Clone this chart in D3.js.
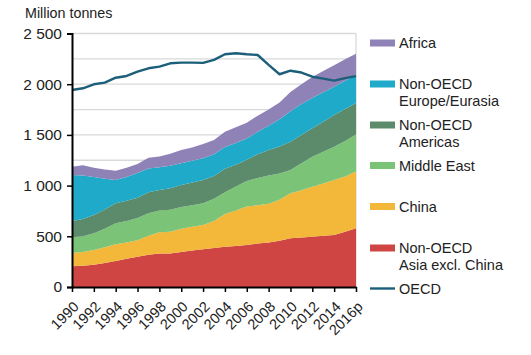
<!DOCTYPE html>
<html>
<head>
<meta charset="utf-8">
<script src="https://cdn.jsdelivr.net/npm/d3@7/dist/d3.min.js"></script>
<style>
  html, body { margin: 0; padding: 0; background: #fff; }
  svg { display: block; font-family: "Liberation Sans", Arial, sans-serif; }
</style>
</head>
<body>
<svg id="chart" width="531" height="355"></svg>
<script>
// ---- Data (million tonnes) ----
const years = [1990,1991,1992,1993,1994,1995,1996,1997,1998,1999,2000,2001,2002,2003,2004,2005,2006,2007,2008,2009,2010,2011,2012,2013,2014,2015,2016];
const xTickYears = [1990,1992,1994,1996,1998,2000,2002,2004,2006,2008,2010,2012,2014,2016];
const xTickLabels = ["1990","1992","1994","1996","1998","2000","2002","2004","2006","2008","2010","2012","2014","2016p"];
const yTickValues = [0, 500, 1000, 1500, 2000, 2500];
const yGridValues = [250, 500, 750, 1000, 1250, 1500, 1750, 2000, 2250, 2500];

const asiaExclChina = [205,210,220,236,256,278,299,318,330,330,345,360,372,385,398,405,414,430,440,455,480,488,496,505,513,545,580];
const china          = [130,135,145,156,165,162,161,187,210,215,230,235,239,265,322,350,381,375,380,405,444,467,493,515,542,545,560];
const middleEast     = [155,155,165,183,207,212,220,223,215,217,215,210,214,220,215,235,250,270,280,260,230,265,296,315,329,350,365];
const americas       = [160,170,180,190,197,198,200,207,202,213,215,225,230,225,230,215,210,235,250,265,279,280,280,295,312,315,310];
const europeEurasia  = [455,430,375,303,230,235,245,233,223,220,215,215,214,215,215,215,210,220,240,270,300,305,300,290,280,280,275];
const africa         = [81,100,90,92,92,90,87,107,108,120,130,130,141,140,150,155,155,160,160,165,190,195,205,210,212,210,210];
const oecd           = [1943,1960,1999,2015,2064,2081,2123,2157,2173,2206,2213,2213,2210,2240,2295,2305,2295,2288,2190,2098,2133,2115,2074,2055,2035,2060,2080];

const seriesKeys   = ["asia","china","me","americas","europe","africa"];
const seriesNames  = {asia:"Non-OECD\nAsia excl. China", china:"China", me:"Middle East", americas:"Non-OECD\nAmericas", europe:"Non-OECD\nEurope/Eurasia", africa:"Africa"};
const seriesColors = {asia:"#cf4544", china:"#f3b73a", me:"#7bc477", americas:"#5b8b6b", europe:"#1eaac8", africa:"#8f82b6"};
const oecdColor = "#1c5f7a";

// ---- Build table ----
const table = years.map((yr, i) => ({
  year: yr,
  asia: asiaExclChina[i], china: china[i], me: middleEast[i],
  americas: americas[i], europe: europeEurasia[i], africa: africa[i],
  oecd: oecd[i]
}));

const svg = d3.select("#chart");
const pLeft = 72, pRight = 356, pTop = 33.5, pBottom = 287;

const x = d3.scaleLinear().domain([1990, 2016]).range([pLeft, pRight]);
const y = d3.scaleLinear().domain([0, 2500]).range([pBottom, pTop]);

// gridlines
svg.append("g").selectAll("line").data(yGridValues).join("line")
  .attr("x1", pLeft).attr("x2", pRight)
  .attr("y1", d => y(d)).attr("y2", d => y(d))
  .attr("stroke", "#d9d9d9").attr("stroke-width", 1.3);
// right border of plot area
svg.append("line").attr("x1", pRight).attr("x2", pRight).attr("y1", y(2500)).attr("y2", y(0))
  .attr("stroke", "#d9d9d9").attr("stroke-width", 1.3);

// stacked areas
const stack = d3.stack().keys(seriesKeys);
const layers = stack(table);
const area = d3.area()
  .x(d => x(d.data.year))
  .y0(d => y(d[0]))
  .y1(d => y(d[1]));
svg.append("g").selectAll("path").data(layers).join("path")
  .attr("d", area)
  .attr("fill", d => seriesColors[d.key]);

// OECD line
const line = d3.line().x(d => x(d.year)).y(d => y(d.oecd));
svg.append("path").datum(table)
  .attr("d", line).attr("fill", "none")
  .attr("stroke", oecdColor).attr("stroke-width", 2.4)
  .attr("stroke-linejoin", "round");

// y axis
const yAxis = d3.axisLeft(y).tickValues(yTickValues)
  .tickFormat(d => d3.format(",")(d).replace(/,/g, " "))
  .tickSize(5).tickPadding(5);
const gy = svg.append("g").attr("transform", `translate(${pLeft},0)`).call(yAxis);
gy.select(".domain").attr("stroke", "#000").attr("stroke-width", 2);
gy.selectAll(".tick line").attr("stroke", "#000").attr("stroke-width", 1.5);
gy.selectAll(".tick text").attr("font-size", 15.5).attr("fill", "#222")
  .attr("font-family", "Liberation Sans, Arial, sans-serif");

// x axis
const xAxis = d3.axisBottom(x).tickValues(xTickYears)
  .tickFormat((d, i) => xTickLabels[i]).tickSize(5).tickSizeOuter(0);
const gx = svg.append("g").attr("transform", `translate(0,${pBottom})`).call(xAxis);
gx.select(".domain").attr("stroke", "#000").attr("stroke-width", 2);
gx.selectAll(".tick line").attr("stroke", "#000").attr("stroke-width", 1.5);
gx.selectAll(".tick text")
  .attr("font-size", 14.5).attr("fill", "#222")
  .attr("font-family", "Liberation Sans, Arial, sans-serif")
  .attr("text-anchor", "end")
  .attr("y", 0).attr("dy", "0.35em")
  .attr("transform", "translate(3.5,17) rotate(-45)");

// unit label
svg.append("text").attr("x", 25).attr("y", 18)
  .attr("font-size", 14.3).attr("fill", "#222").text("Million tonnes");

// legend
const legendItems = [
  {key:"africa", y:43},
  {key:"europe", y:84},
  {key:"americas", y:125},
  {key:"me", y:165.5},
  {key:"china", y:206.5},
  {key:"asia", y:248},
];
const lg = svg.append("g");
legendItems.forEach(it => {
  lg.append("rect").attr("x", 370).attr("y", it.y - 3.5).attr("width", 25).attr("height", 7)
    .attr("fill", seriesColors[it.key]);
  const t = lg.append("text").attr("x", 399).attr("y", it.y).attr("font-size", 14.5).attr("fill", "#222");
  seriesNames[it.key].split("\n").forEach((s, j) => {
    t.append("tspan").attr("x", 399).attr("dy", j === 0 ? "0.35em" : "1.2em").text(s);
  });
});
lg.append("line").attr("x1", 370).attr("x2", 395).attr("y1", 288.5).attr("y2", 288.5)
  .attr("stroke", oecdColor).attr("stroke-width", 2.4);
lg.append("text").attr("x", 399).attr("y", 288.5).attr("dy", "0.35em")
  .attr("font-size", 14.5).attr("fill", "#222").text("OECD");
</script>
</body>
</html>
